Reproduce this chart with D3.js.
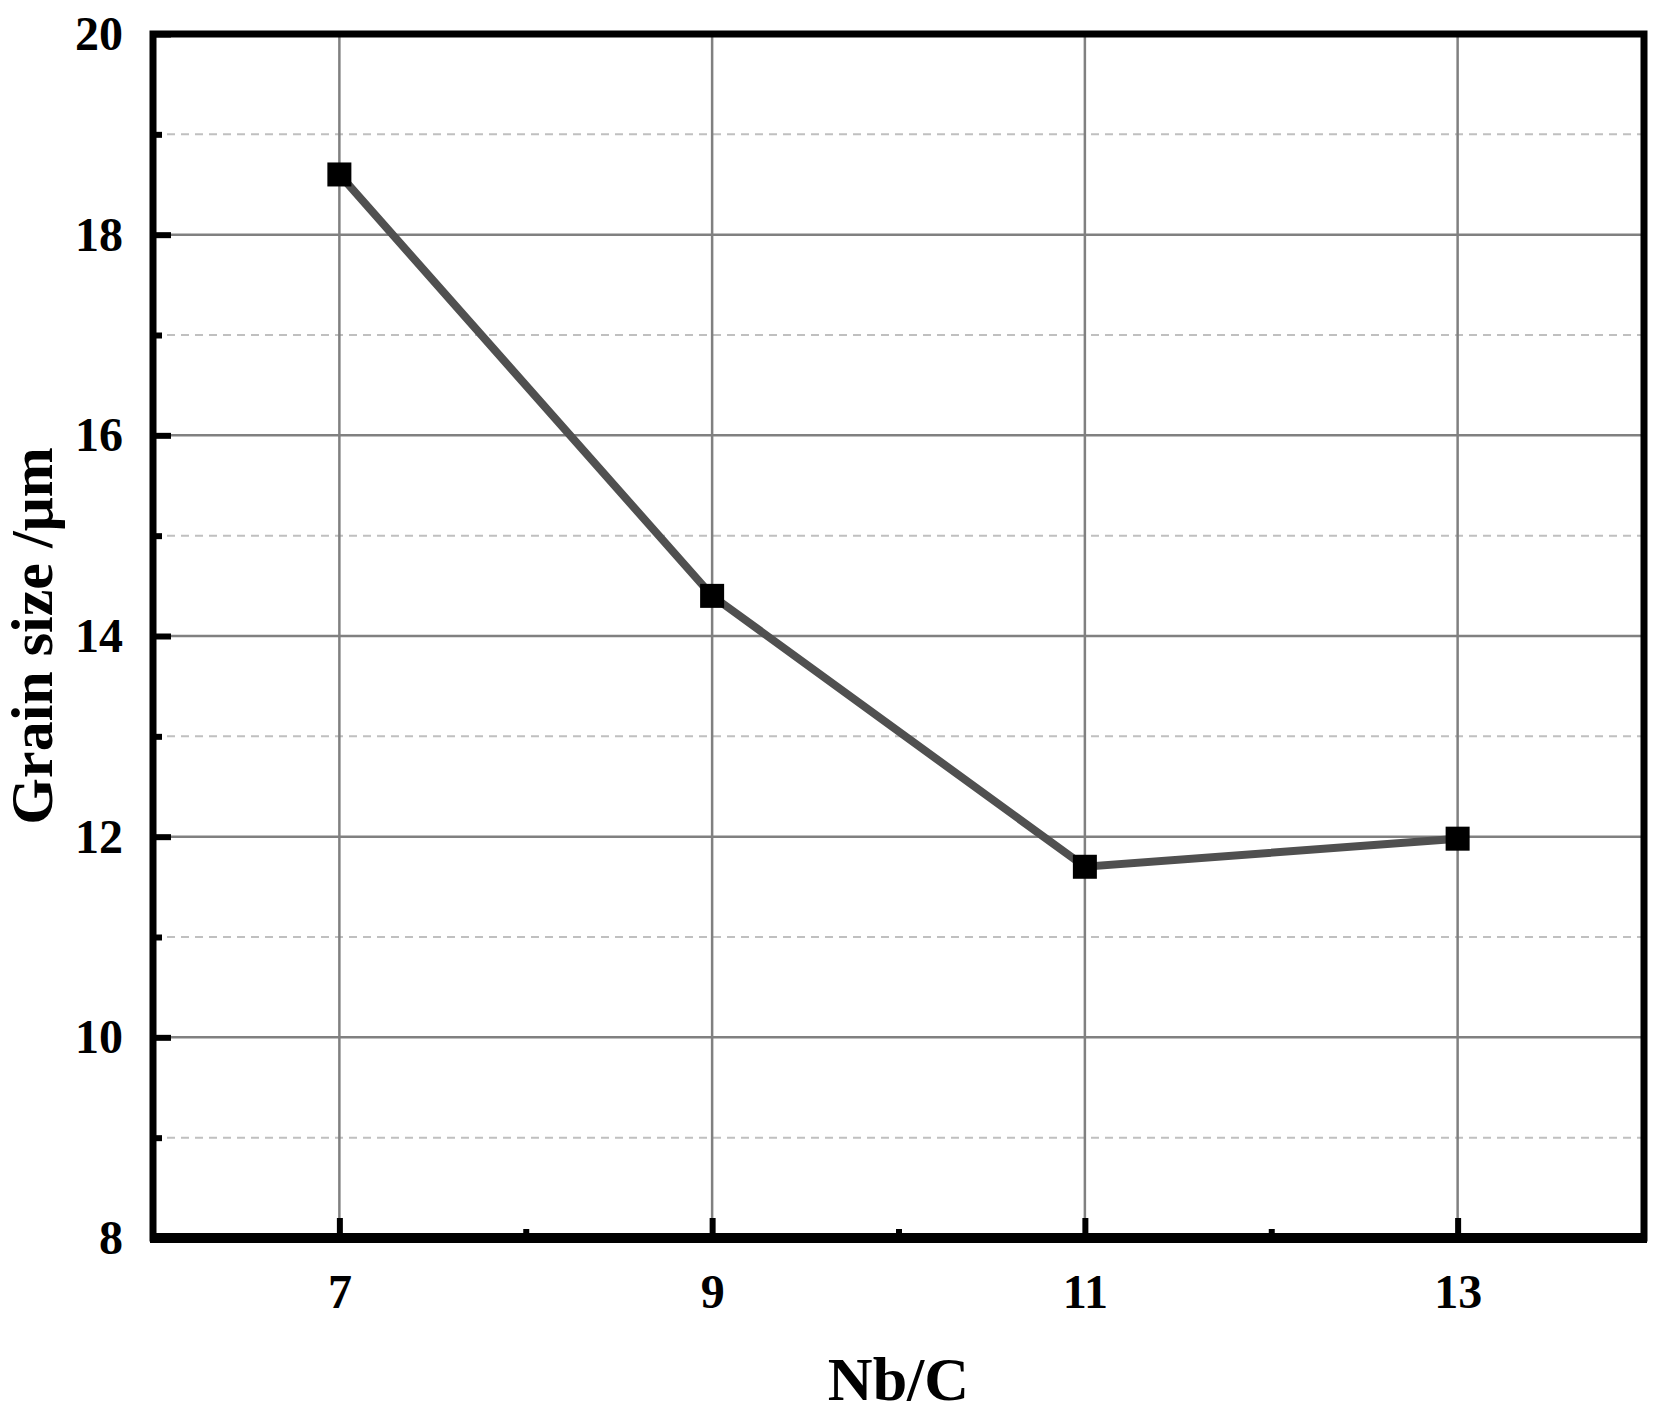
<!DOCTYPE html><html><head><meta charset="utf-8"><script src="https://cdn.jsdelivr.net/npm/d3@7"></script>
<style>body{margin:0;background:#fff}text{font-family:"Liberation Serif","Times New Roman",serif;font-weight:bold}</style></head><body>
<svg id="c" width="1668" height="1412"></svg>
<script>
const nbc=[7,9,11,13];
const grain=[18.6,14.4,11.7,11.98];
const xTicks=[7,9,11,13];
const yTicks=[8,10,12,14,16,18,20];
const svg=d3.select("#c");
const L=153,R=1644,T=34,B=1238;
const x=d3.scaleLinear().domain([6,14]).range([L,R]);
const y=d3.scaleLinear().domain([8,20]).range([B,T]);
const g=svg.append("g");
g.selectAll(".mg").data([9,11,13,15,17,19]).enter().append("line")
 .attr("x1",L).attr("x2",R).attr("y1",d=>y(d)).attr("y2",d=>y(d))
 .attr("stroke","#c0c0c0").attr("stroke-width",2).attr("stroke-dasharray","8,6");
g.selectAll(".hg").data(yTicks.slice(1,-1)).enter().append("line")
 .attr("x1",L).attr("x2",R).attr("y1",d=>y(d)).attr("y2",d=>y(d))
 .attr("stroke","#808080").attr("stroke-width",2.5);
g.selectAll(".vg").data(xTicks).enter().append("line")
 .attr("y1",T).attr("y2",B).attr("x1",d=>x(d)).attr("x2",d=>x(d))
 .attr("stroke","#808080").attr("stroke-width",2.5);
const xa=svg.append("g").attr("transform",`translate(0,${B})`)
 .call(d3.axisBottom(x).tickValues(xTicks).tickSize(-20).tickPadding(36).tickFormat(d3.format("d")));
xa.select(".domain").remove();
xa.selectAll(".tick line").attr("stroke","#000").attr("stroke-width",6);
xa.selectAll("text").attr("font-size",48).attr("fill","#000");
svg.append("g").attr("transform",`translate(0,${B})`).call(d3.axisBottom(x).tickValues([8,10,12]).tickSize(-9).tickFormat(""))
 .call(s=>{s.select(".domain").remove();s.selectAll("line").attr("stroke","#000").attr("stroke-width",6);});
const ya=svg.append("g").attr("transform",`translate(${L},0)`)
 .call(d3.axisLeft(y).tickValues(yTicks).tickSize(-18).tickPadding(30).tickFormat(d3.format("d")));
ya.select(".domain").remove();
ya.selectAll(".tick line").attr("stroke","#000").attr("stroke-width",6);
ya.selectAll("text").attr("font-size",48).attr("fill","#000");
svg.append("g").attr("transform",`translate(${L},0)`).call(d3.axisLeft(y).tickValues([9,11,13,15,17,19]).tickSize(-9).tickFormat(""))
 .call(s=>{s.select(".domain").remove();s.selectAll("line").attr("stroke","#000").attr("stroke-width",6);});
svg.append("rect").attr("x",L).attr("y",T).attr("width",R-L).attr("height",B-T)
 .attr("fill","none").attr("stroke","#000").attr("stroke-width",7);
svg.append("line").attr("x1",L-3).attr("x2",R+3).attr("y1",B).attr("y2",B).attr("stroke","#000").attr("stroke-width",10);
const pts=nbc.map((d,i)=>[d,grain[i]]);
svg.append("path").datum(pts).attr("d",d3.line().x(d=>x(d[0])).y(d=>y(d[1])))
 .attr("fill","none").attr("stroke","#505050").attr("stroke-width",8);
svg.selectAll(".m").data(pts).enter().append("rect")
 .attr("x",d=>x(d[0])-12).attr("y",d=>y(d[1])-12).attr("width",24).attr("height",24).attr("fill","#000");
svg.append("text").attr("x",(L+R)/2).attr("y",1400).attr("text-anchor","middle").attr("font-size",62).text("Nb/C");
svg.append("text").attr("transform",`translate(52,${(T+B)/2}) rotate(-90)`).attr("text-anchor","middle").attr("font-size",60).text("Grain size /μm");
</script></body></html>
